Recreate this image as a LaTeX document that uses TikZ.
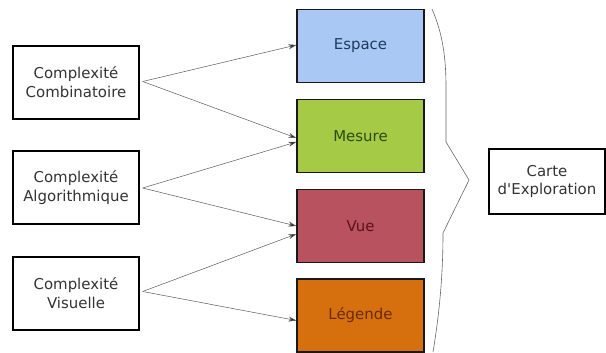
\documentclass[tikz,border=0pt]{standalone}
\usepackage{fontspec}
\setmainfont{DejaVu Sans}[Ligatures=TeXOff]
\usetikzlibrary{arrows.meta}
\definecolor{espfill}{HTML}{A9C8F3}
\definecolor{esptext}{HTML}{1E3A5F}
\definecolor{mesfill}{HTML}{A5CB46}
\definecolor{mestext}{HTML}{2A4A12}
\definecolor{vuefill}{HTML}{B8525E}
\definecolor{vuetext}{HTML}{5A1419}
\definecolor{legfill}{HTML}{D6700F}
\definecolor{legtext}{HTML}{6A2A08}
\tikzset{
  txt/.style={font=\fontsize{15}{19}\selectfont, align=center},
  whitebox/.style={txt, draw=black, line width=1.3bp, fill=white, text=black!80,
    inner sep=0pt},
  colbox/.style={txt, draw=black!90, line width=1.3bp, inner sep=0pt,
    minimum width=127bp, minimum height=73bp},
  link/.style={draw=black!65, line width=0.5bp,
    -{Stealth[length=8bp,width=5bp,fill=black!85]}},
  bracepath/.style={draw=black!60, line width=0.6bp}
}
\begin{document}
\begin{tikzpicture}[x=1bp,y=1bp]
  \useasboundingbox (0,0) rectangle (606,352);

  % source factors
  \node[whitebox, minimum width=126bp, minimum height=73bp] (comb) at (76,269.5)
    {Complexité\\Combinatoire};
  \node[whitebox, minimum width=126bp, minimum height=73bp] (algo) at (76,164.5)
    {Complexité\\Algorithmique};
  \node[whitebox, minimum width=126bp, minimum height=73bp] (visu) at (76,58.5)
    {Complexité\\Visuelle};

  % components
  \node[colbox, fill=espfill, text=esptext] (esp) at (360.5,306) {Espace};
  \node[colbox, fill=mesfill, text=mestext] (mes) at (360.5,216) {Mesure};
  \node[colbox, fill=vuefill, text=vuetext] (vue) at (360.5,126) {Vue};
  \node[colbox, fill=legfill, text=legtext] (leg) at (360.5,36.5) {Légende};

  % result
  \node[whitebox, minimum width=116bp, minimum height=65bp] (carte) at (547,170.5)
    {Carte\\d'Exploration};

  % influences
  \draw[link] ([xshift=3bp,yshift=1bp]comb.east) -- ([yshift=1bp]esp.west);
  \draw[link] ([xshift=3bp,yshift=1bp]comb.east) -- ([yshift=-2bp]mes.west);
  \draw[link] ([xshift=3bp,yshift=-0.5bp]algo.east) -- ([yshift=-6bp]mes.west);
  \draw[link] ([xshift=3bp,yshift=-0.5bp]algo.east) -- ([yshift=0bp]vue.west);
  \draw[link] ([xshift=3bp,yshift=2bp]visu.east) -- ([yshift=-8bp]vue.west);
  \draw[link] ([xshift=3bp,yshift=2bp]visu.east) -- ([yshift=-5bp]leg.west);

  % brace grouping the components
  \coordinate (tip) at (469,172);
  \draw[bracepath] (432,343) .. controls (441,322) and (446,300) .. (446,265)
    -- (446,210) -- (tip) -- (443,119)
    .. controls (443,70) and (438,30) .. (433,0);
\end{tikzpicture}
\end{document}
